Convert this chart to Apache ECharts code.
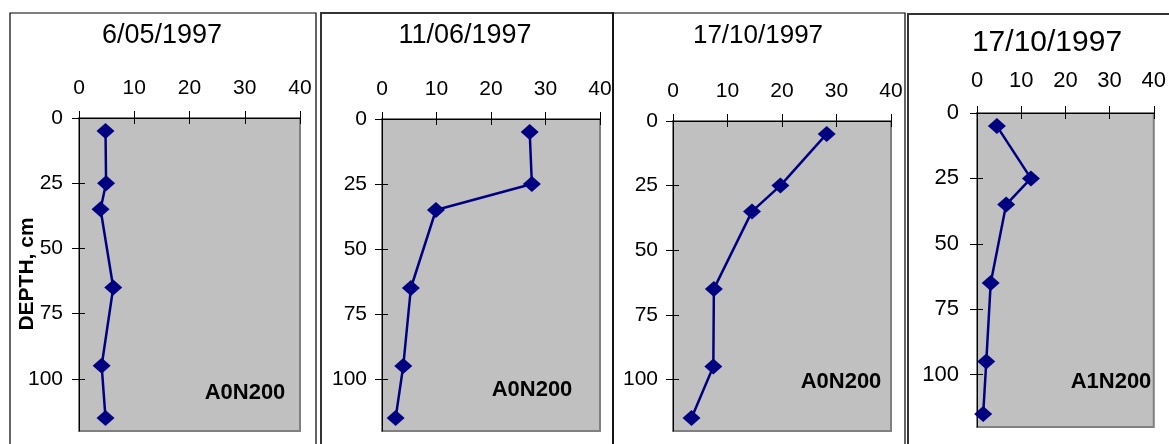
<!DOCTYPE html>
<html>
<head>
<meta charset="utf-8">
<script src="https://cdn.jsdelivr.net/npm/echarts@6/dist/echarts.min.js"></script>
<style>
html,body{margin:0;padding:0;background:#fff;}
#chart{width:1169px;height:444px;}
</style>
</head>
<body>
<div id="chart"></div>
<script>
// ---- data ----
const depths = [5, 25, 35, 65, 95, 115];
const panelTitles = ['6/05/1997', '11/06/1997', '17/10/1997', '17/10/1997'];
const panelLabels = ['A0N200', 'A0N200', 'A0N200', 'A1N200'];
const values1 = [4.8, 4.9, 3.9, 6.2, 4.1, 4.8];
const values2 = [27.1, 27.5, 9.9, 5.3, 3.9, 2.5];
const values3 = [28.2, 19.7, 14.5, 7.5, 7.4, 3.4];
const values4 = [4.5, 12.2, 6.6, 3.1, 2.1, 1.4];
const xTicks = [0, 10, 20, 30, 40];
const yTicks = [0, 25, 50, 75, 100];
const yAxisName = 'DEPTH, cm';

// ---- layout ----
const FONT = '"Liberation Sans", Arial, sans-serif';
const NAVY = '#000080';
const panels = [
  {vals: values1, grid: {left: 79, top: 118, width: 221, height: 313}, box: [10, 13, 306, 460, '#000', 1.2],
   title: [162, 36, 27], label: [245, 393], fs: 21, xm: 19, ym: 16},
  {vals: values2, grid: {left: 382, top: 119, width: 218, height: 312}, box: [321, 13, 292, 460, '#333', 2],
   title: [465, 36, 27], label: [532, 390], fs: 21, xm: 19, ym: 15},
  {vals: values3, grid: {left: 673, top: 121, width: 218, height: 310}, box: [613, 13, 292, 460, '#000', 1.2],
   title: [758, 36, 26], label: [841, 382], fs: 21, xm: 19, ym: 15},
  {vals: values4, grid: {left: 977, top: 113, width: 184, height: 314}, box: [908, 14, 300, 460, '#333', 2],
   title: [1047, 43, 30], label: [1111, 382], fs: 22, xm: 21, ym: 18}
];

const grids = [], xAxes = [], yAxes = [], series = [], graphics = [];
graphics.push({type: 'text', x: 27, y: 274, rotation: Math.PI / 2, z: 10,
  style: {text: yAxisName, font: 'bold 21px ' + FONT, fill: '#000', align: 'center', verticalAlign: 'middle'}});
panels.forEach((p, i) => {
  graphics.push({type: 'rect', shape: {x: p.box[0], y: p.box[1], width: p.box[2], height: p.box[3]},
    style: {fill: null, stroke: p.box[4], lineWidth: p.box[5]}, z: -10});
  graphics.push({type: 'text', x: p.title[0], y: p.title[1],
    style: {text: panelTitles[i], font: p.title[2] + 'px ' + FONT, fill: '#000', align: 'center', verticalAlign: 'middle'}});
  graphics.push({type: 'text', x: p.label[0], y: p.label[1], z: 10,
    style: {text: panelLabels[i], font: 'bold 22px ' + FONT, fill: '#000', align: 'center', verticalAlign: 'middle'}});

  grids.push(Object.assign({show: true, backgroundColor: '#C0C0C0', borderColor: '#808080', borderWidth: 2}, p.grid));
  const xBase = {gridIndex: i, type: 'value', position: 'top', min: 0, max: 40, interval: 10, splitLine: {show: false}};
  xAxes.push(Object.assign({}, xBase, {
    axisLine: {show: true, lineStyle: {color: '#000', width: 1}},
    axisTick: {show: true, length: 7, lineStyle: {color: '#000'}},
    axisLabel: {show: true, margin: p.xm, fontSize: p.fs, fontFamily: FONT, color: '#000',
      customValues: xTicks}
  }));
  xAxes.push(Object.assign({}, xBase, {
    axisLine: {show: false}, axisLabel: {show: false},
    axisTick: {show: true, inside: true, length: 6, lineStyle: {color: '#000'}}
  }));
  const yBase = {gridIndex: i, type: 'value', position: 'left', inverse: true, min: 0, max: 120, interval: 25, splitLine: {show: false}};
  yAxes.push(Object.assign({}, yBase, {
    axisLine: {show: true, lineStyle: {color: '#000', width: 1}},
    axisTick: {show: true, length: 7, lineStyle: {color: '#000'}, customValues: yTicks},
    axisLabel: {show: true, margin: p.ym, fontSize: p.fs, fontFamily: FONT, color: '#000',
      customValues: yTicks}
  }));
  yAxes.push(Object.assign({}, yBase, {
    axisLine: {show: false}, axisLabel: {show: false},
    axisTick: {show: true, inside: true, length: 6, lineStyle: {color: '#000'}, customValues: yTicks}
  }));
  series.push({
    type: 'line', xAxisIndex: 2 * i, yAxisIndex: 2 * i,
    data: depths.map((d, k) => [p.vals[k], d]),
    symbol: 'diamond', symbolSize: [18, 16],
    itemStyle: {color: NAVY}, lineStyle: {color: NAVY, width: 2.5},
    z: 5
  });
});

const chart = echarts.init(document.getElementById('chart'), null, {renderer: 'canvas'});
chart.setOption({
  animation: false,
  backgroundColor: '#fff',
  grid: grids, xAxis: xAxes, yAxis: yAxes, series: series,
  graphic: {elements: graphics}
});
</script>
</body>
</html>
